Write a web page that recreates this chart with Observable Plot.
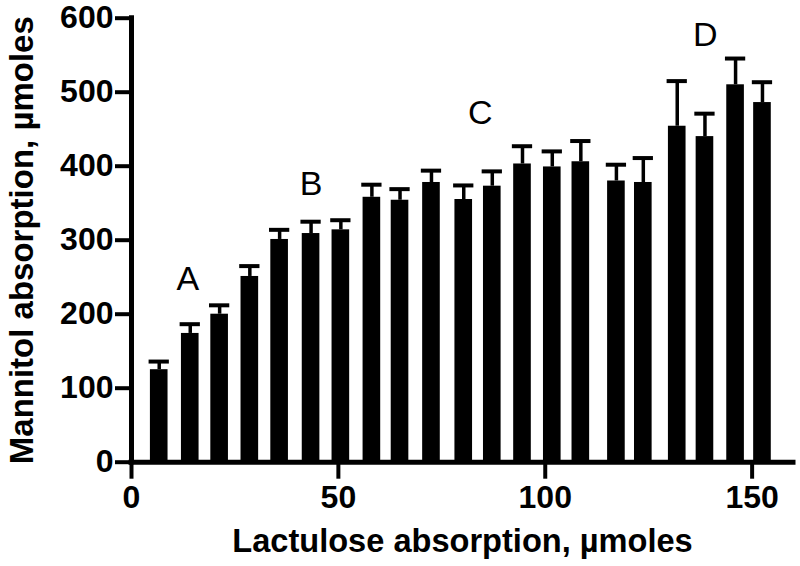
<!DOCTYPE html>
<html>
<head>
<meta charset="utf-8">
<script src="https://cdn.jsdelivr.net/npm/d3@7"></script>
<script src="https://cdn.jsdelivr.net/npm/@observablehq/plot@0.6"></script>
<style>
  html, body { margin: 0; padding: 0; background: #fff; }
</style>
</head>
<body>
<div id="chart"></div>
<script>
// Lactulose absorption (µmoles) – bar positions
const lactulose = [6.7, 14.2, 21.3, 28.6, 35.8, 43.4, 50.6, 58.1, 64.9, 72.5, 80.3,
                   87.2, 94.5, 101.7, 108.6, 117.2, 123.7, 131.9, 138.6, 146.0, 152.5];
// Mannitol absorption (µmoles) – bar heights
const mannitol = [125, 174, 200, 251, 301, 309, 314, 358, 354, 378, 355,
                  373, 403, 399, 406, 380, 378, 454, 440, 510, 486];
// Upper error (SEM)
const sem = [11, 12.5, 12, 14, 13, 16, 13, 17, 15, 16, 19,
             20, 24, 21, 28, 22, 33, 61, 31, 35.5, 27.5];

// Group labels
const groupLabels = ["A", "B", "C", "D"];
const groupX = [13.6, 43.4, 84.3, 138.7];
const groupY = [248, 376, 472, 577];

const xTicks = [0, 50, 100, 150];
const yTicks = [0, 100, 200, 300, 400, 500, 600];
const xTitle = "Lactulose absorption, µmoles";
const yTitle = "Mannitol absorption, µmoles";

const data = lactulose.map((x, i) => ({x, y: mannitol[i], e: sem[i]}));
const labels = groupLabels.map((t, i) => ({t, x: groupX[i], y: groupY[i]}));

const barHalf = 2.13;  // half bar width in x units
const capHalf = 2.45;  // half cap width in x units

const font = "'Liberation Sans', Arial, Helvetica, sans-serif";

const chart = Plot.plot({
  width: 800,
  height: 566,
  marginLeft: 131,
  marginRight: 7,
  marginTop: 17.7,
  marginBottom: 104.3,
  style: {fontFamily: font, color: "black", background: "white"},
  x: {domain: [0, 160]},
  y: {domain: [0, 600]},
  marks: [
    Plot.rectY(data, {x1: d => d.x - barHalf, x2: d => d.x + barHalf, y: "y", fill: "black", inset: 0}),
    Plot.ruleX(data, {x: "x", y1: "y", y2: d => d.y + d.e, stroke: "black", strokeWidth: 3.5}),
    Plot.ruleY(data, {y: d => d.y + d.e, x1: d => d.x - capHalf, x2: d => d.x + capHalf, stroke: "black", strokeWidth: 4}),
    Plot.axisY({ticks: yTicks, tickSize: 16, tickPadding: 2, fontSize: 32, fontWeight: "bold",
                strokeWidth: 4, label: null, tickFormat: d => String(d)}),
    Plot.axisX({ticks: xTicks, tickSize: 17, tickPadding: 6, fontSize: 32, fontWeight: "bold",
                strokeWidth: 4, label: null, tickFormat: d => String(d)}),
    Plot.ruleX([0], {stroke: "black", strokeWidth: 5, strokeLinecap: "square"}),
    Plot.ruleY([0], {stroke: "black", strokeWidth: 5, strokeLinecap: "square"}),
    Plot.text(labels, {x: "x", y: "y", text: "t", fontSize: 34, fontWeight: "normal",
                       lineAnchor: "middle", textAnchor: "middle", fill: "black"}),
    Plot.text([xTitle], {frameAnchor: "bottom", text: d => d, lineAnchor: "bottom", textAnchor: "middle", dy: 90,
                         fontSize: 32.6, fontWeight: "bold", fill: "black"}),
    Plot.text([yTitle], {frameAnchor: "left", text: d => d, rotate: -90, lineAnchor: "bottom", textAnchor: "middle",
                         dx: -99, fontSize: 33, fontWeight: "bold", fill: "black"})
  ]
});

document.getElementById("chart").appendChild(chart);
</script>
</body>
</html>
